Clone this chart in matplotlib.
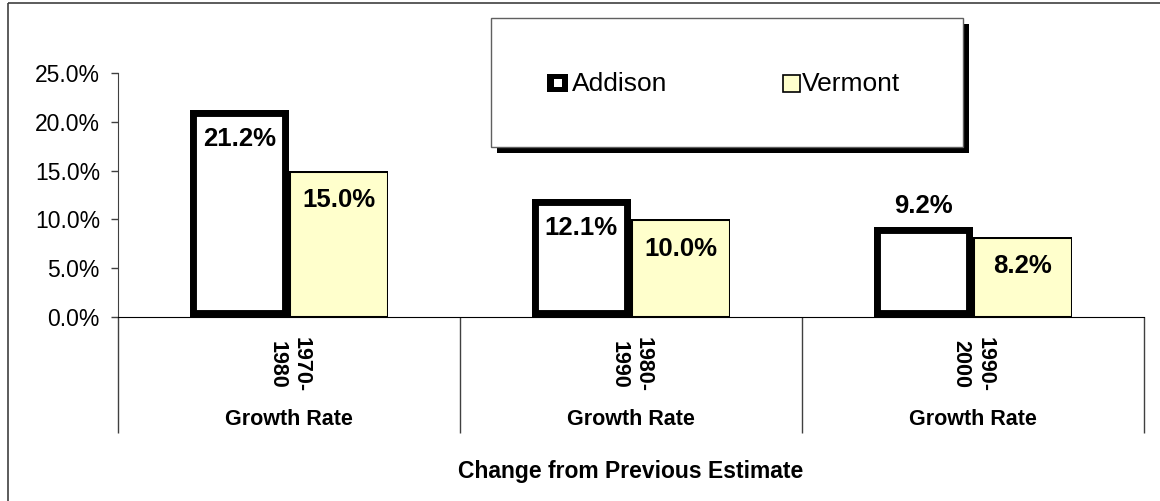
import matplotlib
matplotlib.use('Agg')
import matplotlib.pyplot as plt
from matplotlib.patches import Rectangle

plt.rcParams['font.family'] = ['Liberation Sans', 'DejaVu Sans']

# growth rates (%) per decade
periods = ['1970-\n1980', '1980-\n1990', '1990-\n2000']
group_label = 'Growth Rate'
addison = [21.2, 12.1, 9.2]
vermont = [15.0, 10.0, 8.2]
addison_label_pos = ['inside', 'inside', 'above']
vermont_label_pos = ['inside', 'inside', 'inside']
yticks = [0, 5, 10, 15, 20, 25]

W, H = 1160, 501
VERMONT_FILL = '#FFFFCC'


def px(x, y):
    """pixel position (top-left origin) -> figure fraction"""
    return x / W, 1 - y / H


fig = plt.figure(figsize=(W / 100, H / 100), dpi=100)
left, top = px(118, 73)
right, bottom = px(1144, 317)
ax = fig.add_axes([left, bottom, right - left, top - bottom])

x = list(range(len(periods)))
w = 0.29

# stroke is clipped to the bar itself so the border sits inside the value
vb = ax.bar([i + w / 2 for i in x], vermont, w, color=VERMONT_FILL,
            edgecolor='black', linewidth=2.2, label='Vermont', zorder=3)
ab = ax.bar([i - w / 2 for i in x], addison, w, color='white',
            edgecolor='black', linewidth=10, label='Addison', zorder=3)
for rect in list(vb) + list(ab):
    rect.set_clip_path(rect)


def label_bars(bars, vals, where):
    for rect, v, pos in zip(bars, vals, where):
        cx = rect.get_x() + rect.get_width() / 2
        y = v - 3.0 if pos == 'inside' else v + 2.2
        ax.text(cx, y, f'{v:.1f}%', ha='center', va='center',
                fontsize=18.5, fontweight='bold', zorder=4)


label_bars(ab, addison, addison_label_pos)
label_bars(vb, vermont, vermont_label_pos)

ax.set_xlim(-0.5, len(periods) - 0.5)
ax.set_ylim(0, 25)
ax.set_yticks(yticks)
ax.set_yticklabels([f'{t:.1f}%' for t in yticks], fontsize=16.5)
ax.tick_params(axis='y', length=5, width=1, pad=8, color='#404040')

# category separators hang below the axis line
ax.set_xticks([i - 0.5 for i in range(len(periods) + 1)])
ax.set_xticklabels([])
ax.tick_params(axis='x', length=83.5, width=1, color='#404040')

for s in ['top', 'right']:
    ax.spines[s].set_visible(False)
ax.spines['left'].set_color('#404040')
ax.spines['bottom'].set_color('black')

tr = ax.get_xaxis_transform()
for i, p in enumerate(periods):
    ax.annotate(p, xy=(i, 0), xycoords=tr, xytext=(0, -20 * 0.72), textcoords='offset points',
                ha='center', va='top', rotation=-90, multialignment='center',
                fontsize=15.5, fontweight='bold', annotation_clip=False)
    ax.annotate(group_label, xy=(i, 0), xycoords=tr, xytext=(0, -103 * 0.72),
                textcoords='offset points', ha='center', va='center',
                fontsize=15.5, fontweight='bold', annotation_clip=False)

ax.set_xlabel('Change from Previous Estimate', fontsize=16.5, fontweight='bold')
ax.xaxis.set_label_coords(0.5, -143 / 244)

# overlay in pixel units for the legend box and outer frame
ov = fig.add_axes([0, 0, 1, 1], zorder=5)
ov.set_xlim(0, W)
ov.set_ylim(H, 0)
ov.axis('off')
ov.patch.set_alpha(0)

ov.add_patch(Rectangle((8, 3), W, H, fill=False, edgecolor='#404040', linewidth=1.2))
ov.add_patch(Rectangle((497, 24), 472, 129, facecolor='black', edgecolor='none'))
ov.add_patch(Rectangle((491, 18), 472, 129, facecolor='white', edgecolor='#606060', linewidth=1))

ov.add_patch(Rectangle((547, 74), 21, 18, facecolor='black', edgecolor='none'))
ov.add_patch(Rectangle((554, 79), 8, 8, facecolor='white', edgecolor='none'))
ov.text(572, 84, 'Addison', fontsize=19, ha='left', va='center')
ov.add_patch(Rectangle((783, 75), 17, 17, facecolor=VERMONT_FILL, edgecolor='black', linewidth=1.2))
ov.text(802, 84, 'Vermont', fontsize=19, ha='left', va='center')

fig.savefig('out.png', dpi=100)
